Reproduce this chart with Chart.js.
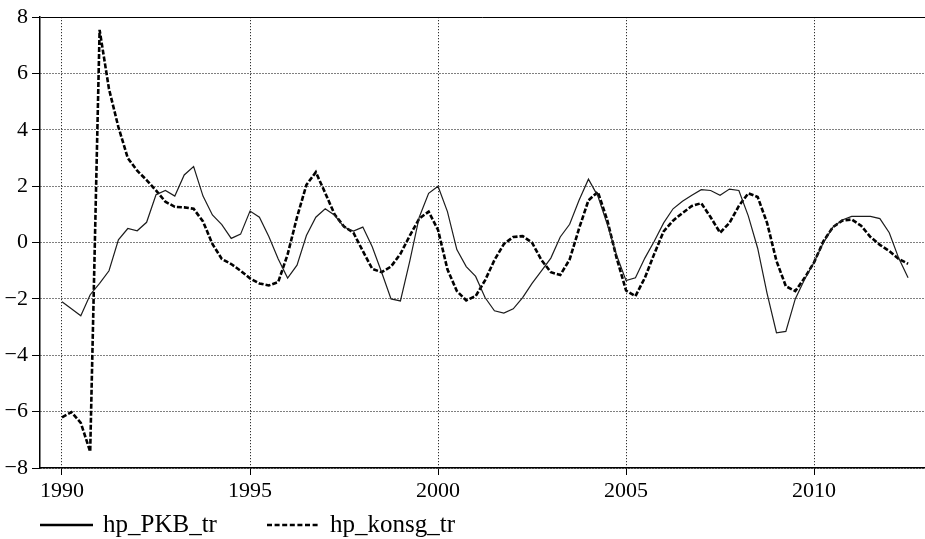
<!DOCTYPE html>
<html>
<head>
<meta charset="utf-8">
<script src="https://cdn.jsdelivr.net/npm/chart.js@4/dist/chart.umd.min.js"></script>
<style>
html,body{margin:0;padding:0;background:#ffffff;}
#wrap{width:925px;height:539px;}
canvas{display:block;}
</style>
</head>
<body>
<div id="wrap"><canvas id="c" width="925" height="539"></canvas></div>
<script>
// ---- data (quarterly, gretl-style labels) ----
const quarters = [
 "1990:1","1990:2","1990:3","1990:4","1991:1","1991:2","1991:3","1991:4",
 "1992:1","1992:2","1992:3","1992:4","1993:1","1993:2","1993:3","1993:4",
 "1994:1","1994:2","1994:3","1994:4","1995:1","1995:2","1995:3","1995:4",
 "1996:1","1996:2","1996:3","1996:4","1997:1","1997:2","1997:3","1997:4",
 "1998:1","1998:2","1998:3","1998:4","1999:1","1999:2","1999:3","1999:4",
 "2000:1","2000:2","2000:3","2000:4","2001:1","2001:2","2001:3","2001:4",
 "2002:1","2002:2","2002:3","2002:4","2003:1","2003:2","2003:3","2003:4",
 "2004:1","2004:2","2004:3","2004:4","2005:1","2005:2","2005:3","2005:4",
 "2006:1","2006:2","2006:3","2006:4","2007:1","2007:2","2007:3","2007:4",
 "2008:1","2008:2","2008:3","2008:4","2009:1","2009:2","2009:3","2009:4",
 "2010:1","2010:2","2010:3","2010:4","2011:1","2011:2","2011:3","2011:4",
 "2012:1","2012:2","2012:3"
];
const seriesNames = ["hp_PKB_tr", "hp_konsg_tr"];
const hpPKB = [
 -2.10,-2.35,-2.60,-1.85,-1.45,-1.00, 0.10, 0.50, 0.42, 0.72,
  1.70, 1.85, 1.65, 2.40, 2.70, 1.65, 0.98, 0.64, 0.15, 0.30,
  1.12, 0.90, 0.22,-0.58,-1.26,-0.80, 0.25, 0.90, 1.20, 0.97,
  0.55, 0.41, 0.55,-0.15,-1.05,-2.00,-2.07,-0.65, 0.90, 1.75,
  2.00, 1.10,-0.25,-0.85,-1.20,-1.95,-2.42,-2.50,-2.35,-1.95,
 -1.45,-1.00,-0.55, 0.20, 0.65, 1.50, 2.25, 1.65, 0.65,-0.45,
 -1.35,-1.25,-0.55, 0.05, 0.70, 1.20, 1.47, 1.68, 1.88, 1.85,
  1.68, 1.90, 1.85, 0.95,-0.20,-1.80,-3.20,-3.15,-2.00,-1.30,
 -0.70, 0.00, 0.55, 0.80, 0.93, 0.93, 0.93, 0.85, 0.35,-0.55,
 -1.25
];
const hpKonsg = [
 -6.20,-6.02,-6.40,-7.42, 7.55, 5.45, 4.10, 3.00, 2.55, 2.22,
  1.85, 1.45, 1.27, 1.25, 1.20, 0.75,-0.05,-0.58,-0.76,-1.00,
 -1.27,-1.45,-1.52,-1.40,-0.42, 0.90, 2.05, 2.50, 1.76, 1.00,
  0.57, 0.35,-0.30,-0.93,-1.05,-0.85,-0.40, 0.25, 0.85, 1.10,
  0.45,-0.95,-1.72,-2.05,-1.90,-1.34,-0.62,-0.05, 0.20, 0.23,
  0.00,-0.62,-1.05,-1.15,-0.60, 0.50, 1.50, 1.80, 0.80,-0.55,
 -1.70,-1.90,-1.25,-0.40, 0.40, 0.78, 1.05, 1.30, 1.40, 0.90,
  0.35, 0.70, 1.30, 1.75, 1.62, 0.70,-0.65,-1.55,-1.72,-1.25,
 -0.70, 0.05, 0.55, 0.78, 0.82, 0.60, 0.20,-0.08,-0.30,-0.58,
 -0.75
];
const xTickValues = [1990, 1995, 2000, 2005, 2010];
const xTickLabels = ["1990", "1995", "2000", "2005", "2010"];
const yTickValues = [-8, -6, -4, -2, 0, 2, 4, 6, 8];
const yTickLabels = ["\u22128", "\u22126", "\u22124", "\u22122", "0", "2", "4", "6", "8"];

// ---- helpers ----
function quarterToYear(q) {
  const parts = q.split(":");
  return Number(parts[0]) + (Number(parts[1]) - 1) / 4;
}
function toPoints(values) {
  return quarters.map((q, i) => ({ x: quarterToYear(q), y: values[i] }));
}

const SERIF = '"Liberation Serif", "Times New Roman", "DejaVu Serif", serif';

// Legend drawn below the plot, gretl style
const bottomLegend = {
  id: "bottomLegend",
  afterDraw(chart) {
    const ctx = chart.ctx;
    const slots = [
      { x0: 40, x1: 93, tx: 103 },
      { x0: 267, x1: 320, tx: 330 }
    ];
    const ly = 525;
    chart.data.datasets.forEach((ds, i) => {
      const s = slots[i];
      ctx.save();
      ctx.strokeStyle = "#000";
      ctx.lineWidth = 2.6;
      ctx.setLineDash(ds.borderDash && ds.borderDash.length ? [5, 2.6] : []);
      ctx.beginPath();
      ctx.moveTo(s.x0, ly);
      ctx.lineTo(s.x1, ly);
      ctx.stroke();
      ctx.setLineDash([]);
      ctx.fillStyle = "#000";
      ctx.font = "25px " + SERIF;
      ctx.textAlign = "left";
      ctx.textBaseline = "alphabetic";
      ctx.fillText(ds.label, s.tx, 532);
      ctx.restore();
    });
  }
};

new Chart(document.getElementById("c"), {
  type: "line",
  data: {
    datasets: [
      {
        label: seriesNames[0],
        data: toPoints(hpPKB),
        borderColor: "#1c1c1c",
        borderWidth: 1.2,
        pointRadius: 0,
        tension: 0,
        fill: false
      },
      {
        label: seriesNames[1],
        data: toPoints(hpKonsg),
        borderColor: "#000000",
        borderWidth: 2.6,
        borderDash: [5, 2],
        pointRadius: 0,
        tension: 0,
        fill: false
      }
    ]
  },
  options: {
    responsive: false,
    animation: false,
    devicePixelRatio: 1,
    layout: { padding: { top: 12, left: 0, right: 0, bottom: 0 } },
    plugins: { legend: { display: false }, tooltip: { enabled: false } },
    scales: {
      x: {
        type: "linear",
        min: 1989.415,
        max: 2012.95,
        afterBuildTicks: (s) => { s.ticks = xTickValues.map(v => ({ value: v })); },
        afterFit: (s) => { s.height = 71; },
        ticks: {
          autoSkip: false,
          maxRotation: 0,
          color: "#000",
          padding: 3,
          font: { family: SERIF, size: 22 },
          callback: (v) => xTickLabels[xTickValues.indexOf(v)]
        },
        grid: { color: "#000", lineWidth: 1, tickLength: 7, tickColor: "#000", drawTicks: true },
        border: { display: true, color: "#000", width: 1.5, dash: [1, 2] }
      },
      y: {
        min: -8,
        max: 8,
        afterBuildTicks: (s) => { s.ticks = yTickValues.map(v => ({ value: v })); },
        afterFit: (s) => { s.width = 40; },
        ticks: {
          color: "#000",
          padding: 4,
          font: { family: SERIF, size: 22 },
          callback: (v) => yTickLabels[yTickValues.indexOf(v)]
        },
        grid: { color: "#000", lineWidth: 1, tickLength: 8, tickColor: "#000", drawTicks: true },
        border: {
          display: true, color: "#000", width: 1.5,
          dash: (ctx) => (ctx.tick && ctx.tick.value === 8) ? [] : [1, 2]
        }
      }
    }
  },
  plugins: [bottomLegend]
});
</script>
</body>
</html>
